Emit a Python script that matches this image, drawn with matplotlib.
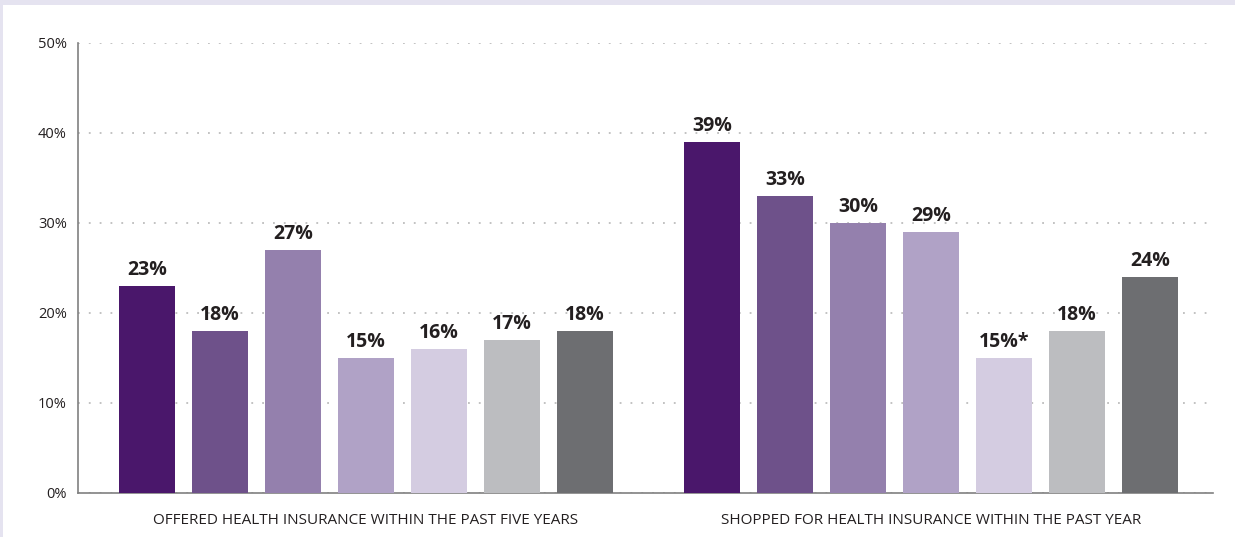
import matplotlib.pyplot as plt
import numpy as np

groups = ['OFFERED HEALTH INSURANCE WITHIN THE PAST FIVE YEARS',
          'SHOPPED FOR HEALTH INSURANCE WITHIN THE PAST YEAR']
offered = [23, 18, 27, 15, 16, 17, 18]
shopped = [39, 33, 30, 29, 15, 18, 24]
shopped_labels = ['39%', '33%', '30%', '29%', '15%*', '18%', '24%']
offered_labels = [str(v) + '%' for v in offered]
colors = ['#4a176b', '#6e518a', '#9480ad', '#b0a2c6', '#d4cce1', '#bcbdc0', '#6d6e71']

plt.rcParams['font.family'] = ['Open Sans', 'DejaVu Sans']

fig = plt.figure(figsize=(12.35, 5.37), dpi=100)
fig.patch.set_facecolor('#e5e3f0')

# white panel behind the chart
bg = fig.add_axes([3 / 1235, 0, 1, 1 - 5 / 537], zorder=-10)
bg.set_facecolor('white')
bg.set_xticks([])
bg.set_yticks([])
for s in bg.spines.values():
    s.set_visible(False)

ax = fig.add_axes([78 / 1235, 44 / 537, (1213 - 78) / 1235, (493 - 43) / 537])
ax.set_facecolor('none')

gap = 7.74
x1 = np.arange(len(offered))
x2 = np.arange(len(shopped)) + gap
width = 0.767

b1 = ax.bar(x1, offered, width, color=colors, zorder=3)
b2 = ax.bar(x2, shopped, width, color=colors, zorder=3)

for bars, labs in [(b1, offered_labels), (b2, shopped_labels)]:
    for b, lab in zip(bars, labs):
        ax.annotate(lab, (b.get_x() + b.get_width() / 2, b.get_height()),
                    xytext=(0, 4), textcoords='offset points', ha='center', va='bottom',
                    fontsize=14, fontweight='bold', color='#231f20')

ax.set_xlim(-0.945, 14.6)
ax.set_ylim(0, 50)
ax.set_yticks(range(0, 51, 10))
ax.set_yticklabels([f'{v}%' for v in range(0, 51, 10)], fontsize=10.5, color='#231f20')
ax.tick_params(axis='y', length=0, pad=8)
ax.set_xticks([])
ax.grid(axis='y', color='#bdbdbd', linestyle=(0, (1, 5)), linewidth=1.3, zorder=0)

for s in ['top', 'right']:
    ax.spines[s].set_visible(False)
ax.spines['left'].set_color('#808080')
ax.spines['bottom'].set_color('#808080')
ax.spines['left'].set_linewidth(1.2)
ax.spines['bottom'].set_linewidth(1.2)

ax.text(x1.mean(), -2.2, groups[0], ha='center', va='top', fontsize=11, color='#231f20')
ax.text(x2.mean(), -2.2, groups[1], ha='center', va='top', fontsize=11, color='#231f20')

fig.savefig('out.png', dpi=100, facecolor=fig.get_facecolor())
